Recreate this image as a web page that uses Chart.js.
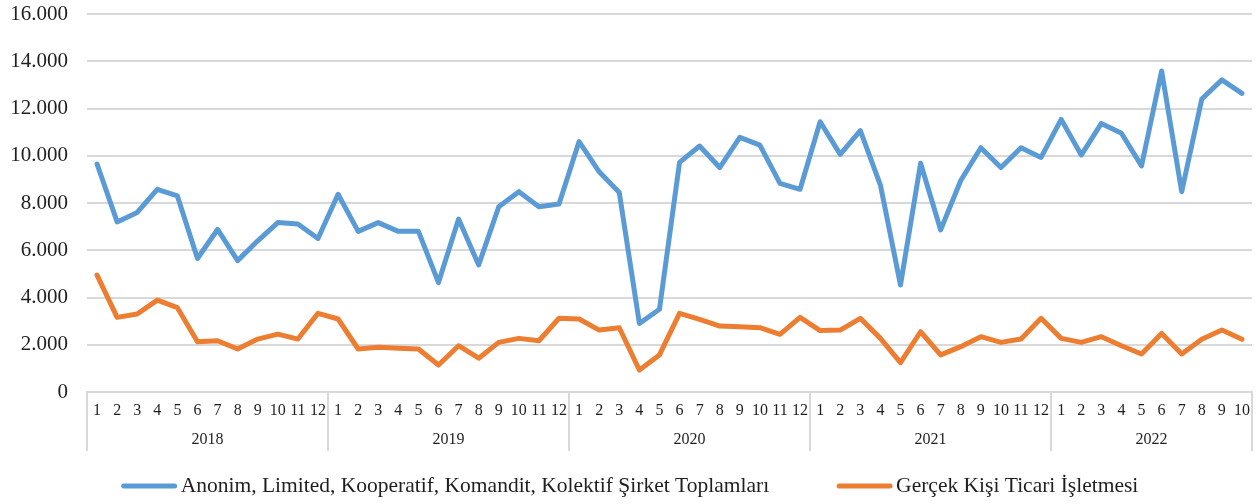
<!DOCTYPE html>
<html>
<head>
<meta charset="utf-8">
<script src="https://cdn.jsdelivr.net/npm/chart.js@4.4.0/dist/chart.umd.min.js"></script>
<style>
  html, body { margin: 0; padding: 0; background: #fff; }
  #wrap { width: 1260px; height: 504px; position: relative; }
</style>
</head>
<body>
<div id="wrap"><canvas id="chart"></canvas></div>
<script>
// Years and months shown on the two-row category axis
const years = ['2018', '2019', '2020', '2021', '2022'];
const monthsPerYear = [12, 12, 12, 12, 10];

// Values (monthly counts)
const sirketValues = [
    9650, 7200, 7600, 8580, 8300, 5650, 6880, 5560, 6400, 7170, 7110, 6500,
    8370, 6800, 7170, 6800, 6800, 4630, 7320, 5380, 7840, 8480, 7840, 7960,
    10600, 9320, 8440, 2900, 3500, 9720, 10410, 9500, 10780, 10450, 8830, 8580,
    11440, 10060, 11060, 8760, 4530, 9680, 6860, 8950, 10340, 9500, 10340, 9930,
    11540, 10030, 11370, 10950, 9570, 13590, 8480, 12400, 13210, 12640
];
const gercekKisiValues = [
    4950, 3160, 3300, 3890, 3570, 2130, 2170, 1820, 2240, 2450, 2240, 3330,
    3090, 1820, 1890, 1850, 1820, 1140, 1960, 1430, 2100, 2270, 2170, 3120,
    3090, 2620, 2720, 930, 1570, 3330, 3070, 2790, 2760, 2720, 2440, 3160,
    2600, 2620, 3120, 2270, 1240, 2550, 1570, 1920, 2340, 2100, 2240, 3120,
    2270, 2100, 2340, 1960, 1610, 2480, 1610, 2230, 2620, 2230
];

const seriesNames = [
    'Anonim, Limited, Kooperatif, Komandit, Kolektif Şirket Toplamları',
    'Gerçek Kişi Ticari İşletmesi'
];
const seriesColors = ['#5b9bd5', '#ed7d31'];

const labels = [];
monthsPerYear.forEach(n => {
    for (let m = 1; m <= n; m++) labels.push(String(m));
});

const FONT = "'Liberation Serif', 'Times New Roman', serif";
const GRID = '#d9d9d9';
const TEXT = '#1f1f1f';

function formatTr(v) {
    return String(v).replace(/\B(?=(\d{3})+(?!\d))/g, '.');
}

// draws the year row and the separators below the month labels
const yearAxisPlugin = {
    id: 'yearAxis',
    afterDraw(chart) {
        const x = chart.scales.x;
        const ctx = chart.ctx;
        const top = x.top;
        const bottom = top + 59;
        ctx.save();
        ctx.strokeStyle = GRID;
        ctx.lineWidth = 2;
        ctx.fillStyle = TEXT;
        ctx.font = '16px ' + FONT;
        ctx.textAlign = 'center';
        ctx.textBaseline = 'middle';

        let start = 0;
        const edges = [x.left];
        years.forEach((yr, i) => {
            const end = start + monthsPerYear[i] - 1;
            const left = start === 0 ? x.left
                : (x.getPixelForValue(start - 1) + x.getPixelForValue(start)) / 2;
            const right = end === labels.length - 1 ? x.right
                : (x.getPixelForValue(end) + x.getPixelForValue(end + 1)) / 2;
            edges.push(right);
            ctx.fillText(yr, (left + right) / 2, top + 48);
            start = end + 1;
        });

        edges.forEach(px => {
            ctx.beginPath();
            ctx.moveTo(Math.round(px), top);
            ctx.lineTo(Math.round(px), bottom);
            ctx.stroke();
        });
        ctx.restore();
    }
};

// legend drawn by hand, Excel style: short thick line then the name
const legendPlugin = {
    id: 'bottomLegend',
    afterDraw(chart) {
        const ctx = chart.ctx;
        const lineLen = 55;
        const textGap = 4;
        const itemGap = 68;
        const y = chart.height - 18;
        ctx.save();
        ctx.font = '21.5px ' + FONT;
        const widths = seriesNames.map(s => ctx.measureText(s).width);
        let total = 0;
        widths.forEach((w, i) => {
            total += lineLen + textGap + w + (i > 0 ? itemGap : 0);
        });
        let cx = (chart.width - total) / 2;
        seriesNames.forEach((name, i) => {
            ctx.strokeStyle = seriesColors[i];
            ctx.lineWidth = 5;
            ctx.lineCap = 'round';
            ctx.beginPath();
            ctx.moveTo(cx + 2, y);
            ctx.lineTo(cx + lineLen - 2, y);
            ctx.stroke();
            ctx.fillStyle = TEXT;
            ctx.textAlign = 'left';
            ctx.textBaseline = 'middle';
            ctx.fillText(name, cx + lineLen + textGap, y);
            cx += lineLen + textGap + widths[i] + itemGap;
        });
        ctx.restore();
    }
};

const ctx = document.getElementById('chart').getContext('2d');
new Chart(ctx, {
    type: 'line',
    data: {
        labels: labels,
        datasets: seriesNames.map((name, i) => ({
            label: name,
            data: i === 0 ? sirketValues : gercekKisiValues,
            borderColor: seriesColors[i],
            backgroundColor: seriesColors[i],
            borderWidth: 5,
            borderCapStyle: 'round',
            borderJoinStyle: 'round',
            pointRadius: 0,
            tension: 0
        }))
    },
    options: {
        responsive: true,
        maintainAspectRatio: false,
        animation: false,
        layout: {
            padding: { top: 14, right: 8, left: 0, bottom: 52 }
        },
        plugins: {
            tooltip: { enabled: false },
            legend: { display: false }
        },
        scales: {
            x: {
                type: 'category',
                offset: true,
                grid: { display: false, drawTicks: false },
                border: { display: true, color: GRID, width: 2 },
                ticks: {
                    autoSkip: false,
                    maxRotation: 0,
                    padding: 9,
                    color: TEXT,
                    font: { family: FONT, size: 16 }
                },
                afterFit(scale) {
                    scale.height = 60;
                    scale.paddingLeft = 0;
                    scale.paddingRight = 0;
                }
            },
            y: {
                min: 0,
                max: 16000,
                grid: { color: GRID, lineWidth: 2, drawTicks: false },
                border: { display: false },
                ticks: {
                    stepSize: 2000,
                    padding: 19,
                    color: TEXT,
                    font: { family: FONT, size: 21 },
                    callback: v => formatTr(v)
                },
                afterFit(scale) {
                    scale.width = 87;
                    scale.paddingTop = 0;
                    scale.paddingBottom = 0;
                }
            }
        }
    },
    plugins: [yearAxisPlugin, legendPlugin]
});
</script>
</body>
</html>
